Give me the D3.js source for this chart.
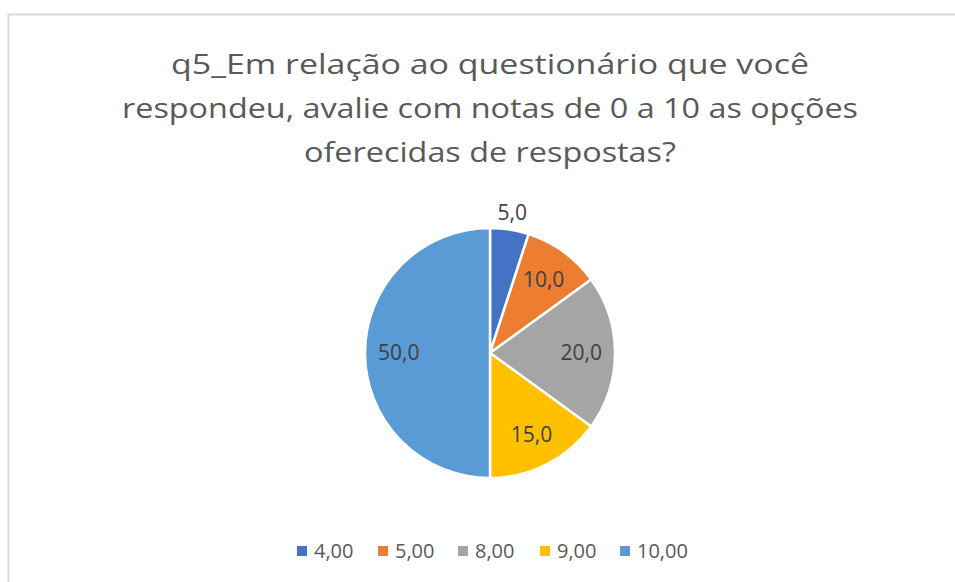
<!DOCTYPE html>
<html>
<head>
<meta charset="utf-8">
<script src="https://cdnjs.cloudflare.com/ajax/libs/d3/7.8.5/d3.min.js"></script>
<style>
	body { margin: 0; background: #fff; }
	svg text { font-family: "Open Sans", "Noto Sans", sans-serif; }
</style>
</head>
<body>
<div id="chart"></div>
<script>
'use strict';

var categories = ["4,00", "5,00", "8,00", "9,00", "10,00"];
var percents = [5, 10, 20, 15, 50];
var titleLines = [
	"q5_Em relação ao questionário que você",
	"respondeu, avalie com notas de 0 a 10 as opções",
	"oferecidas de respostas?"
];
var sliceColors = ["#4472C4", "#ED7D31", "#A5A5A5", "#FFC000", "#5B9BD5"];

var WIDTH = 955;
var HEIGHT = 582;
var CX = 490;
var CY = 353;
var RADIUS = 125;

var svg = d3.select("#chart").append("svg")
	.attr("width", WIDTH)
	.attr("height", HEIGHT);

svg.append("rect")
	.attr("x", 8.5)
	.attr("y", 14.5)
	.attr("width", WIDTH + 10)
	.attr("height", HEIGHT + 10)
	.style("fill", "#fff")
	.style("stroke", "#d9d9d9")
	.style("stroke-width", 2);

// title
var titleWidths = [638, 736, 372];
svg.selectAll(".title-line")
	.data(titleLines)
	.enter()
	.append("text")
	.classed("title-line", 1)
	.attr("x", CX)
	.attr("y", function (d, i) { return 74 + i * 44; })
	.attr("text-anchor", "middle")
	.attr("textLength", function (d, i) { return titleWidths[i]; })
	.attr("lengthAdjust", "spacingAndGlyphs")
	.style("font-size", "28px")
	.style("fill", "#595959")
	.text(function (d) { return d; });

// pie
var color = d3.scaleOrdinal().domain(categories).range(sliceColors);

var pie = d3.pie().sort(null).value(function (d) { return d.value; });
var rows = categories.map(function (c, i) {
	return { cat: c, value: percents[i] };
});
var arcs = pie(rows);

var arc = d3.arc().innerRadius(0).outerRadius(RADIUS);
var labelArc = d3.arc().innerRadius(RADIUS * 0.73).outerRadius(RADIUS * 0.73);
var outerLabelArc = d3.arc().innerRadius(RADIUS * 1.14).outerRadius(RADIUS * 1.14);

var g = svg.append("g").attr("transform", "translate(" + CX + "," + CY + ")");

g.selectAll(".slice")
	.data(arcs)
	.enter()
	.append("path")
	.classed("slice", 1)
	.attr("d", arc)
	.style("fill", function (d) { return color(d.data.cat); })
	.style("stroke", "#fff")
	.style("stroke-width", 2.5)
	.style("stroke-linejoin", "round");

g.selectAll(".slice-label")
	.data(arcs)
	.enter()
	.append("text")
	.classed("slice-label", 1)
	.attr("transform", function (d) {
		var c = (d.data.value < 8) ? outerLabelArc.centroid(d) : labelArc.centroid(d);
		return "translate(" + c[0] + "," + c[1] + ")";
	})
	.attr("text-anchor", "middle")
	.attr("dy", "0.35em")
	.style("font-size", "21px")
	.style("fill", "#404040")
	.text(function (d) { return d3.format(".1f")(d.data.value).replace(".", ","); });

// legend
var legendX = [297, 378, 458, 540, 620];
var legend = svg.selectAll(".legend-item")
	.data(categories)
	.enter()
	.append("g")
	.classed("legend-item", 1)
	.attr("transform", function (d, i) { return "translate(" + legendX[i] + ",551)"; });

legend.append("rect")
	.attr("x", 0)
	.attr("y", -5)
	.attr("width", 10)
	.attr("height", 10)
	.style("fill", function (d) { return color(d); });

legend.append("text")
	.attr("x", 17)
	.attr("dy", "0.35em")
	.style("font-size", "20px")
	.style("fill", "#595959")
	.text(function (d) { return d; });
</script>
</body>
</html>
